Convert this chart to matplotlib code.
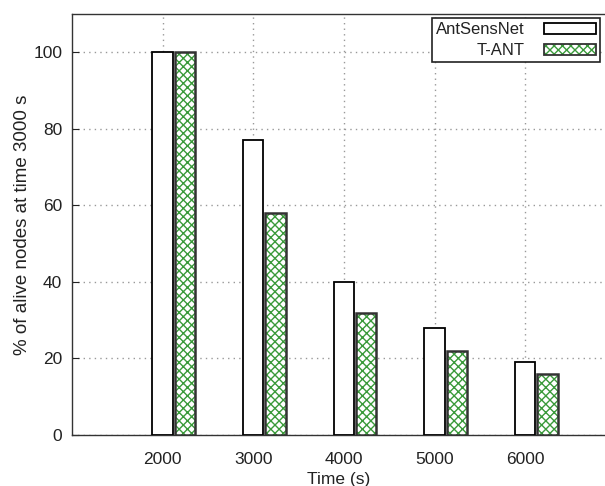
import matplotlib
matplotlib.use("Agg")
import matplotlib.pyplot as plt
from matplotlib.patches import Patch
from matplotlib.legend_handler import HandlerTuple
import numpy as np

plt.rcParams['font.family'] = ['Liberation Sans', 'DejaVu Sans']
plt.rcParams['hatch.linewidth'] = 1.0

times = [2000, 3000, 4000, 5000, 6000]
antsensnet = [100, 77, 40, 28, 19]
tant = [100, 58, 32, 22, 16]
labels = ["AntSensNet", "T-ANT"]

green = "#3a9a3a"
txt = "#222222"

fig = plt.figure(figsize=(6.05, 4.86), dpi=100)
# the original is cropped on the right, so the axes runs to the figure edge
ax = fig.add_axes([0.119, 0.105, 0.881, 0.866])

x = np.array(times, dtype=float)
w = 225
ax.bar(x, antsensnet, width=w, color="white", edgecolor="black", linewidth=1.3, zorder=3)
# green hatched bars: hatch layer then dark outline on top
ax.bar(x + 245, tant, width=w, color="white", edgecolor=green, hatch="xxxx", linewidth=0, zorder=3)
ax.bar(x + 245, tant, width=w, fill=False, edgecolor="#333333", linewidth=1.8, zorder=4)

ax.set_xlim(1000, 6880)
ax.set_ylim(0, 110)
ax.set_xticks(times)
ax.set_yticks([0, 20, 40, 60, 80, 100])
ax.tick_params(direction="in", length=5, labelsize=12.5, colors=txt, pad=7)
ax.tick_params(axis="x", pad=12)
ax.grid(True, linestyle=(0, (1, 3)), color="#999999", linewidth=1.0, zorder=0)
for s in ax.spines.values():
    s.set_color("#333333")
    s.set_linewidth(1.0)
ax.spines['right'].set_visible(False)

ax.set_xlabel("Time (s)", fontsize=12.5, color=txt, labelpad=4)
ax.set_ylabel("% of alive nodes at time 3000 s", fontsize=13.5, color=txt)
ax.yaxis.set_label_coords(-0.076, 0.5)

h1 = Patch(facecolor="white", edgecolor="black", linewidth=1.3)
h2a = Patch(facecolor="white", edgecolor=green, hatch="xxxx", linewidth=0)
h2b = Patch(fill=False, edgecolor="#333333", linewidth=1.3)
leg = ax.legend([h1, (h2a, h2b)], labels, handler_map={tuple: HandlerTuple(ndivide=1)},
                loc="upper right", bbox_to_anchor=(0.991, 0.99), markerfirst=False,
                fontsize=12, frameon=True, fancybox=False, edgecolor="#222222",
                framealpha=1, handlelength=3.1, handleheight=0.65, handletextpad=1.2,
                borderpad=0.25, labelspacing=0.35, borderaxespad=0)
leg.get_frame().set_linewidth(1.2)
for t in leg.get_texts():
    t.set_color(txt)

fig.savefig("out.png", dpi=100)
